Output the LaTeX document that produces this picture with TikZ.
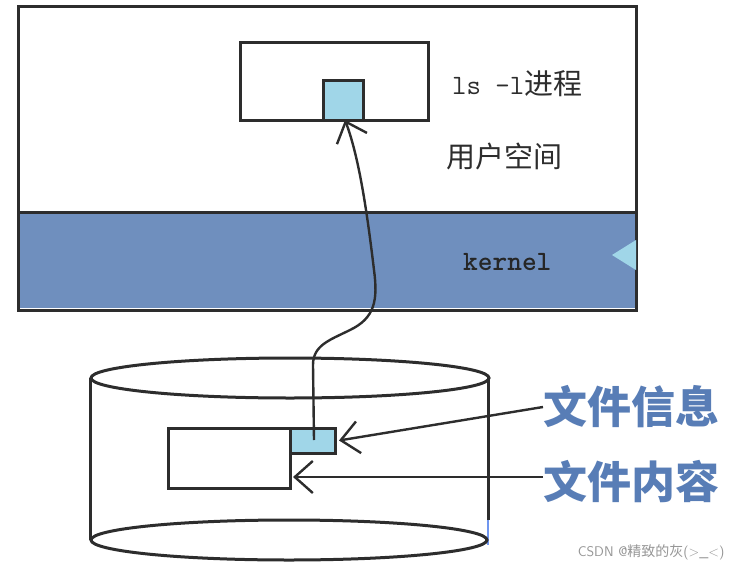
\documentclass[tikz,border=0pt]{standalone}
\usepackage{fontspec}
\newfontfamily\cjk{Noto Sans CJK SC}
\usetikzlibrary{arrows.meta}
\definecolor{band}{RGB}{111,143,190}
\definecolor{cell}{RGB}{160,214,232}
\definecolor{ink}{RGB}{45,45,45}
\definecolor{labelblue}{RGB}{88,125,182}
\definecolor{wm}{RGB}{150,150,150}
\tikzset{
  sketch/.style={draw=ink, line width=3pt, inner sep=0pt, outer sep=0pt},
  wbox/.style={sketch, fill=white},
  cbox/.style={sketch, fill=cell},
  conn/.style={draw=ink, line width=2.4pt, -{Straight Barb[length=18pt,width=32pt,line width=2.4pt]}},
  plain/.style={font=\cjk\fontsize{29}{32}\selectfont, text=ink, inner sep=0pt},
  big/.style={font=\cjk\bfseries\fontsize{44}{48}\selectfont, text=labelblue, inner sep=0pt},
}
\begin{document}
\begin{tikzpicture}[x=1pt,y=-1pt]
\useasboundingbox (0,0) rectangle (740,571);
\fill[white] (0,0) rectangle (740,571);
% upper space
\node[sketch, fill=white, minimum width=618pt, minimum height=304pt, anchor=north west] (outer) at (18,6) {};
\node[fill=band, inner sep=0pt, minimum width=615pt, minimum height=96pt, anchor=north west] (kband) at (19.5,212) {};
\draw[ink, line width=3pt] (kband.north west) -- (kband.north east);
\fill[cell] (636,240) -- (612,255) -- (636,270) -- cycle;
\node[wbox, minimum width=188pt, minimum height=78pt, anchor=north west] (proc) at (240,42) {};
\node[cbox, minimum width=40pt, minimum height=40pt, anchor=south west] (pcell) at (323,120) {};
\node[plain, anchor=west] (lsl) at (452,84) {{\ttfamily\fontsize{28}{30}\selectfont ls -l}进程};
\node[plain, anchor=west] (user) at (446,156) {用户空间};
\node[plain, anchor=west, text=black!85] (kern) at (463,262) {\ttfamily\bfseries\fontsize{28}{30}\selectfont kernel};
% disk cylinder
\coordinate (topc) at (290,378);
\coordinate (botc) at (289,540);
\draw[ink, line width=3pt] (90,378) -- (90,540);
\draw[ink, line width=3pt] (488,378) -- (488,520);
\draw[cell!70!blue, line width=1.5pt] (488,520) -- (488,545);
\draw[ink, line width=3pt, fill=white] (topc) ellipse [x radius=199, y radius=20];
\draw[ink, line width=3pt] (botc) ellipse [x radius=198, y radius=20];
\node[wbox, minimum width=122pt, minimum height=60pt, anchor=north west] (content) at (168,428) {};
\node[cbox, minimum width=45pt, minimum height=25pt, anchor=north west] (info) at (290,428) {};
% labels
\node[big, anchor=west] (linfo) at (543,407) {文件信息};
\node[big, anchor=west] (lcont) at (543,482) {文件内容};
\node[font=\fontsize{14}{16}\selectfont\sffamily, text=wm, anchor=east] (mark) at (728,552) {CSDN @{\cjk 精致的灰}(>\_<)};
% connectors
\coordinate (infoin) at (314,440);
\coordinate (contin) at ([yshift=11pt]content.south east);
\draw[conn] (infoin) -- (313,365) .. controls (313,345) and (330,340) .. (350,330)
  .. controls (375,318) and (378,300) .. (374,270)
  .. controls (368,220) and (360,160) .. ([xshift=2pt]pcell.south);
\draw[conn] (linfo.west) -- ([xshift=4pt]info.east);
\draw[conn] (lcont.west |- contin) -- ([xshift=3pt]contin);
\end{tikzpicture}
\end{document}
